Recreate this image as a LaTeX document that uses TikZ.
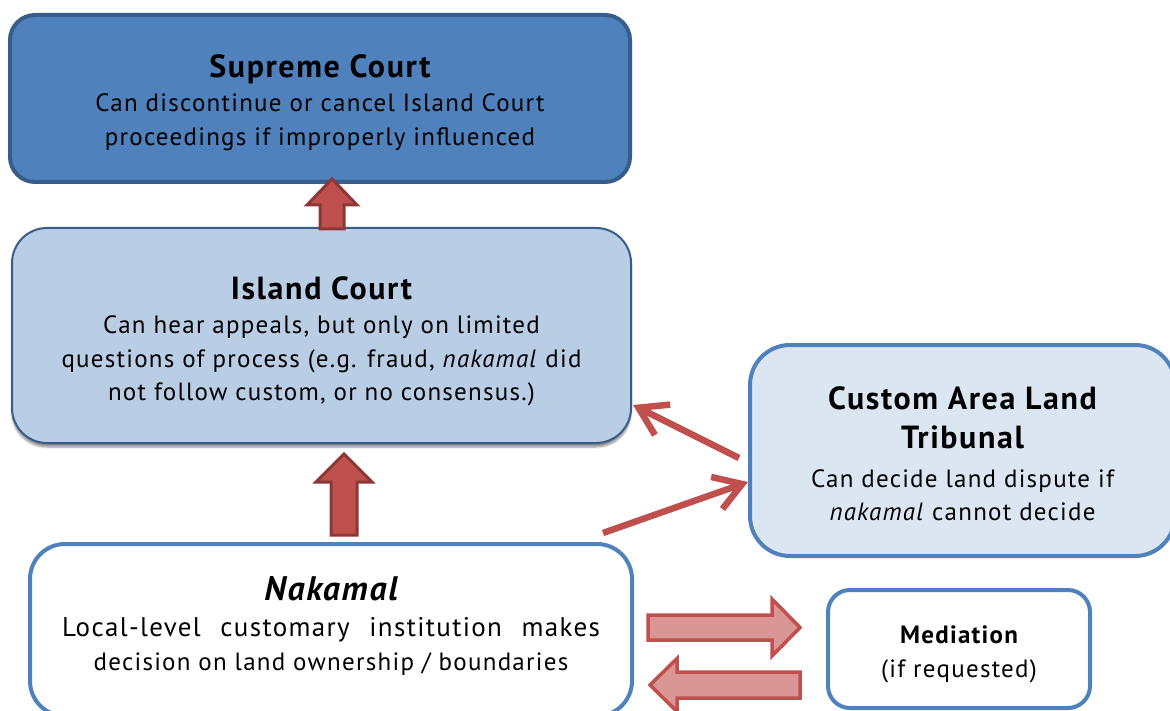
\documentclass[tikz,border=0pt]{standalone}
\usepackage{fontspec}
\setmainfont{PT Sans}[LetterSpace=5]
\usetikzlibrary{arrows.meta,shadows.blur}
\definecolor{supfill}{HTML}{4F81BD}
\definecolor{supdraw}{HTML}{385D8A}
\definecolor{islfill}{HTML}{B9CDE5}
\definecolor{tribfill}{HTML}{DCE6F2}
\definecolor{boxblue}{HTML}{4F81BD}
\definecolor{redfill}{HTML}{C0504D}
\definecolor{reddraw}{HTML}{8C3836}
\definecolor{pinkfill}{HTML}{D99694}
\newcommand\titlef{\fontsize{32}{40}\selectfont\bfseries}
\newcommand\bodyf{\fontsize{25}{33.5}\selectfont\mdseries\upshape}
\newcommand\naktitlef{\fontsize{34}{40}\selectfont\bfseries\itshape}
\newcommand\nakbodyf{\fontsize{27}{35}\selectfont\mdseries\upshape}
\begin{document}
\begin{tikzpicture}[x=1pt,y=-1pt,
  box/.style={rectangle, rounded corners=#1, inner sep=0pt},
  txt/.style={align=center, inner sep=0pt, font=\bodyf},
  upblock/.style={draw=reddraw, fill=redfill, line width=3pt, line join=miter},
  sideblock/.style={draw=redfill, fill=pinkfill, line width=3.5pt, line join=miter},
  redline/.style={draw=redfill, line width=6.5pt, -{Straight Barb[length=27pt,width=34pt,line width=6.5pt]}}
]
\clip (0,0) rectangle (1170,711);
\useasboundingbox (0,0) rectangle (1170,711);

% boxes
\node[box=25pt, draw=supdraw, fill=supfill, line width=4pt, minimum width=620pt, minimum height=167pt]
  (sup) at (320,98.5) {};
\node[box=35pt, draw=supdraw, fill=islfill, line width=2pt, minimum width=619pt, minimum height=215pt,
  blur shadow={shadow xshift=0pt, shadow yshift=-4pt, shadow blur steps=6, shadow opacity=45}]
  (isl) at (321.5,335.5) {};
\node[box=40pt, draw=boxblue, fill=tribfill, line width=4pt, minimum width=425pt, minimum height=211pt]
  (trib) at (962.5,450.5) {};
\node[box=35pt, draw=boxblue, fill=white, line width=4pt, minimum width=602pt, minimum height=172pt]
  (nak) at (331,630) {};
\node[box=22pt, draw=boxblue, fill=white, line width=4pt, minimum width=262pt, minimum height=118pt]
  (med) at (959,649) {};

% texts
\node[txt] (supt) at ([yshift=-4pt]sup.center)
  {\titlef Supreme Court\\[1pt]\bodyf Can discontinue or cancel Island Court\\proceedings if improperly influenced};
\node[txt] (islt) at ([yshift=-6pt]isl.center)
  {\titlef Island Court\\[1pt]\bodyf Can hear appeals, but only on limited\\questions of process (e.g. fraud, \textit{nakamal} did\\not follow custom, or no consensus.)};
\node[txt] (tribt) at ([yshift=-3pt]trib.center)
  {\titlef Custom Area Land\\[6pt]\titlef Tribunal\\[5pt]\bodyf Can decide land dispute if\\\textit{nakamal} cannot decide};
\node[txt] (nakt) at ([yshift=4pt]nak.center)
  {\naktitlef Nakamal\\[3pt]\nakbodyf\makebox[538pt][s]{Local-level customary institution makes}\\decision on land ownership / boundaries};
\node[txt] (medt) at ([yshift=-5.5pt]med.center)
  {\bfseries Mediation\\\mdseries (if requested)};

% block arrows (base and tip coordinates)
\coordinate (a1b) at (332,229);
\coordinate (a1t) at (332,179);
\coordinate (a2b) at (344,535);
\coordinate (a2t) at (344,454);
\coordinate (a3b) at (648,627.5);
\coordinate (a3t) at (800,627.5);
\coordinate (a4b) at (800,685);
\coordinate (a4t) at (650,685);
\draw[upblock] (a1b) ++(-12,0) -- ++(0,-24) -- ++(-13,0) -- (a1t) -- ++(25,26) -- ++(-13,0) -- ++(0,24) -- cycle;
\draw[upblock] (a2b) ++(-13,0) -- ++(0,-53) -- ++(-15,0) -- (a2t) -- ++(28,28) -- ++(-15,0) -- ++(0,53) -- cycle;
\draw[sideblock] (a3b) ++(0,-12.5) -- ++(124,0) -- ++(0,-16) -- (a3t) -- ++(-28,28.5) -- ++(0,-16) -- ++(-124,0) -- cycle;
\draw[sideblock] (a4b) ++(0,-13) -- ++(-123,0) -- ++(0,-13.5) -- (a4t) -- ++(27,26.5) -- ++(0,-13.5) -- ++(123,0) -- cycle;

% line arrows
\coordinate (s1) at (739,458);
\coordinate (t1) at (633,405);
\coordinate (s2) at (603,533);
\coordinate (t2) at (748,482);
\draw[redline] (s1) -- (t1);
\draw[redline] (s2) -- (t2);
\end{tikzpicture}
\end{document}
